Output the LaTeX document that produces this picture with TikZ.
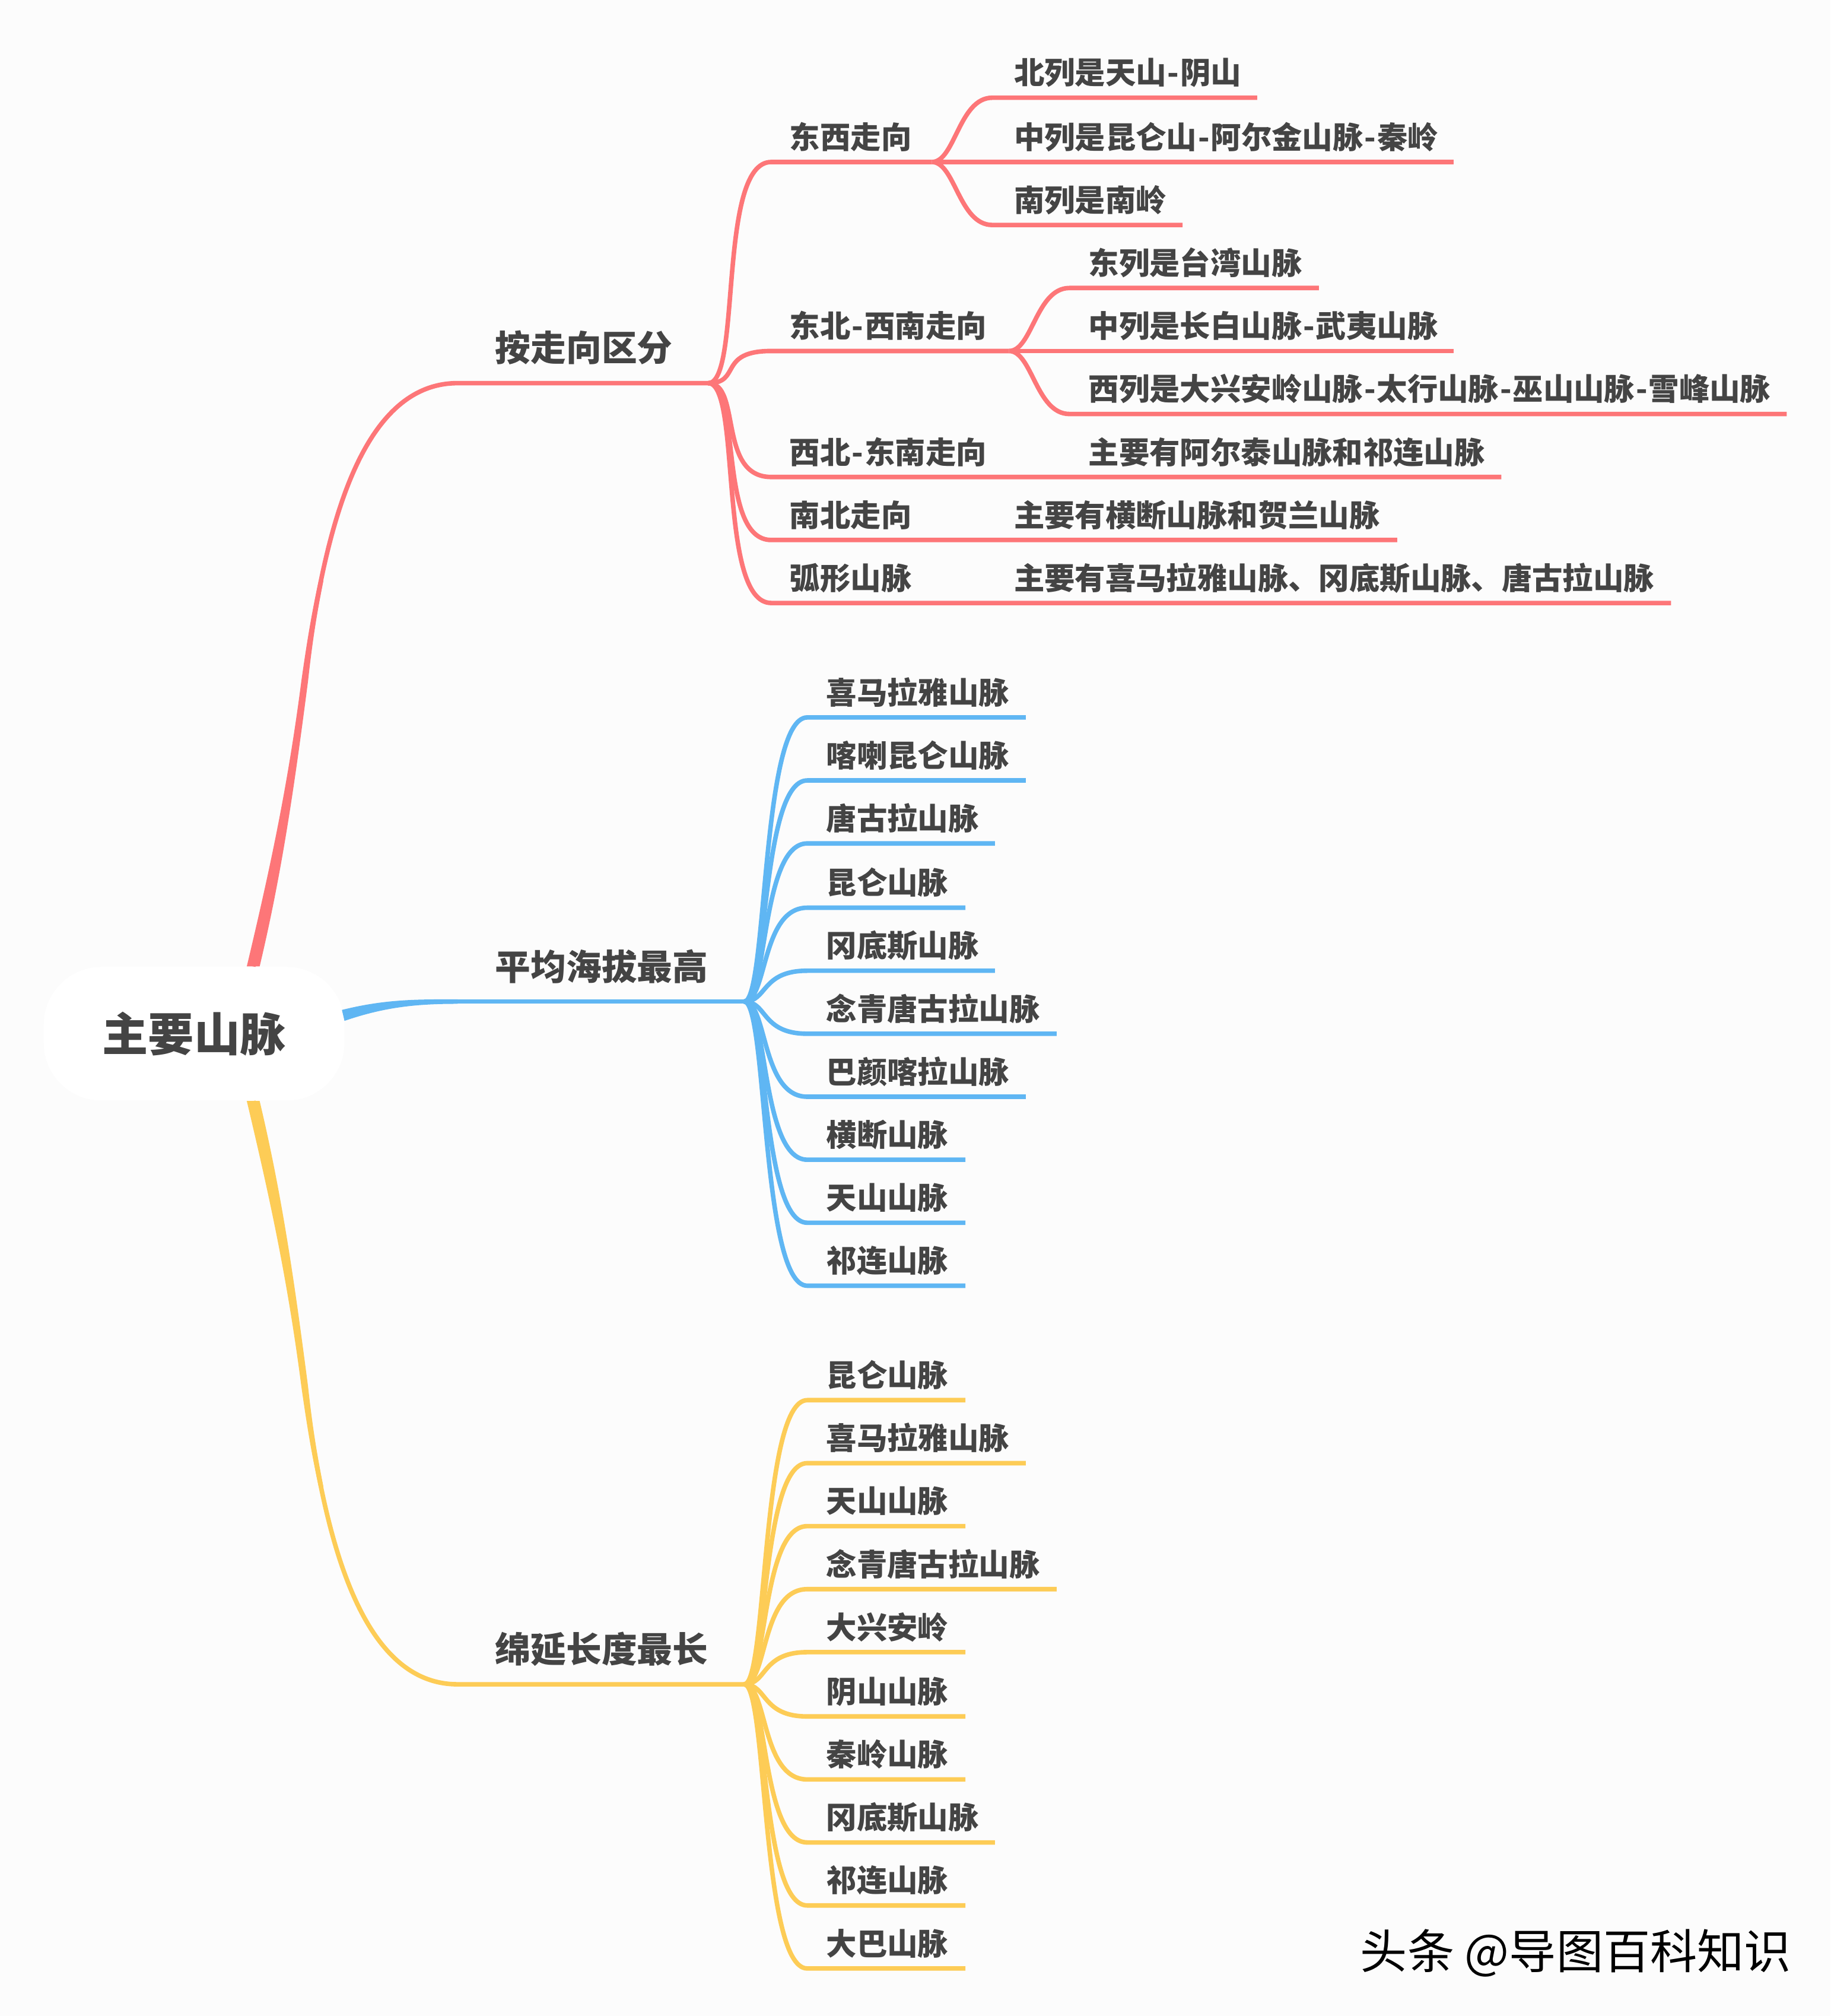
\documentclass[tikz,border=0pt]{standalone}
\usepackage{fontspec}
\setmainfont{Noto Sans CJK SC}
\usetikzlibrary{calc}
\definecolor{txtgray}{HTML}{444444}
\definecolor{redline}{HTML}{FD7678}
\definecolor{blueline}{HTML}{5FB6F3}
\definecolor{yellowline}{HTML}{FDCC56}
\newcommand{\hy}{\kern.5pt-\kern.5pt}
\tikzset{
  leaf/.style={anchor=base west,inner sep=0pt,text=txtgray,font=\fontsize{13.5}{13.5}\selectfont\bfseries},
  bigleaf/.style={anchor=base west,inner sep=0pt,text=txtgray,font=\fontsize{15.7}{15.7}\selectfont\bfseries},
  centre/.style={fill=white,rounded corners=0.9cm,minimum width=4.68cm,minimum height=2.08cm,text=txtgray,font=\fontsize{20.3}{20.3}\selectfont\bfseries},
  twig/.style={line width=2pt,line cap=butt}
}

\begin{document}
\begin{tikzpicture}[x=0.02cm,y=-0.02cm]
\fill [white!98.8!black] (0,0) rectangle (1424,1568);
\useasboundingbox (0,0) rectangle (1424,1568);

\node [centre] (root) at (151,804) {主要山脉};

% thick limbs, flat cut on the centre box
\coordinate (redhub) at (551,298);
\coordinate (bluehub) at (579,779);
\coordinate (yelhub) at (579,1310);
\coordinate (redelbow) at (356,298);
\coordinate (blueelbow) at (356,779);
\coordinate (yelelbow) at (356,1310);

\draw [twig,redline] ($(root.north)+(46,0)$) .. controls (214,680) and (226,615) .. (237,530)
  .. controls (250,430) and (275,298) .. (redelbow) -- (redhub);
\fill [redline] ($(root.north)+(41,0)$) .. controls (209,680) and (223.4,615) .. (234.4,530)
  .. controls (240,490) and (244,470) .. (248,451.6)
  -- (251.6,451.6) .. controls (248,470) and (244,490) .. (239.6,530)
  .. controls (228.6,615) and (219,680) .. ($(root.north)+(51,0)$) -- cycle;

\fill [blueline] (266,785.5) .. controls (300,777) and (325,777.25) .. ($(blueelbow)+(0,-1.75)$)
  -- ($(blueelbow)+(0,1.75)$) .. controls (325,780.75) and (300,783) .. (268,794) -- cycle;
\draw [twig,blueline] (blueelbow) -- (bluehub);

\draw [twig,yellowline] ($(root.south)+(46,0)$) .. controls (214,928) and (226,993) .. (237,1078)
  .. controls (250,1178) and (275,1310) .. (yelelbow) -- (yelhub);
\fill [yellowline] ($(root.south)+(41,0)$) .. controls (209,928) and (223.4,993) .. (234.4,1078)
  .. controls (240,1118) and (244,1138) .. (248,1156.4)
  -- (251.6,1156.4) .. controls (248,1138) and (244,1118) .. (239.6,1078)
  .. controls (228.6,993) and (219,928) .. ($(root.south)+(51,0)$) -- cycle;

\node [bigleaf] (rdir) at (385,281) {按走向区分};
\node [bigleaf] (bhigh) at (385,762.5) {平均海拔最高};
\node [bigleaf] (ylong) at (385,1293) {绵延长度最长};

% direction groups
\foreach \name/\txt/\y/\e in {ew/东西走向/126/725,ns/东北\hy 西南走向/273/785,nw/西北\hy 东南走向/371/1168,sn/南北走向/420/1087,arc/弧形山脉/469/1300}{
  \coordinate (\name s) at (600,\y);
  \coordinate (\name e) at (\e,\y);
  \node [leaf] (\name) at (614,\y-10.5) {\txt};
  \draw [twig,redline] (redhub) .. controls +(26,0) and +(-42,0) .. (\name s) -- (\name e);
}

% text that sits on a direction line
\node [leaf] (nwt) at (846.5,360.5) {主要有阿尔泰山脉和祁连山脉};
\node [leaf] (snt) at (788.5,409.5) {主要有横断山脉和贺兰山脉};
\node [leaf] (arct) at (788.5,458.5) {主要有喜马拉雅山脉、冈底斯山脉、唐古拉山脉};

\foreach \name/\txt/\y/\e in {ea/北列是天山\hy 阴山/76/978,eb/中列是昆仑山\hy 阿尔金山脉\hy 秦岭/126/1131,ec/南列是南岭/175/920}{
  \coordinate (\name s) at (772,\y);
  \coordinate (\name e) at (\e,\y);
  \node [leaf] (\name) at (788.5,\y-10.5) {\txt};
  \draw [twig,redline] (ewe) .. controls +(18,0) and +(-26,0) .. (\name s) -- (\name e);
}
\foreach \name/\txt/\y/\e in {na/东列是台湾山脉/224/1026,nb/中列是长白山脉\hy 武夷山脉/273/1131,nc/西列是大兴安岭山脉\hy 太行山脉\hy 巫山山脉\hy 雪峰山脉/322/1390}{
  \coordinate (\name s) at (832,\y);
  \coordinate (\name e) at (\e,\y);
  \node [leaf] (\name) at (846.5,\y-10.5) {\txt};
  \draw [twig,redline] (nse) .. controls +(18,0) and +(-26,0) .. (\name s) -- (\name e);
}

\foreach \txt/\y/\e [count=\i] in {喜马拉雅山脉/558/798,喀喇昆仑山脉/607/798,唐古拉山脉/656/774,昆仑山脉/706/751,冈底斯山脉/755/774,念青唐古拉山脉/804/822,巴颜喀拉山脉/853/798,横断山脉/902/751,天山山脉/951/751,祁连山脉/1000/751}{
  \coordinate (bs\i) at (628,\y);
  \coordinate (be\i) at (\e,\y);
  \node [leaf] (b\i) at (642.5,\y-10.5) {\txt};
  \draw [twig,blueline] (bluehub) .. controls +(18,0) and +(-36,0) .. (bs\i) -- (be\i);
}

\foreach \txt/\y/\e [count=\i] in {昆仑山脉/1089/751,喜马拉雅山脉/1138/798,天山山脉/1187/751,念青唐古拉山脉/1236/822,大兴安岭/1285/751,阴山山脉/1335/751,秦岭山脉/1384/751,冈底斯山脉/1433/774,祁连山脉/1482/751,大巴山脉/1531/751}{
  \coordinate (ys\i) at (628,\y);
  \coordinate (ye\i) at (\e,\y);
  \node [leaf] (y\i) at (642.5,\y-10.5) {\txt};
  \draw [twig,yellowline] (yelhub) .. controls +(18,0) and +(-36,0) .. (ys\i) -- (ye\i);
}

\node [anchor=base west,inner sep=0pt,text=black,font=\fontsize{20.8}{20.8}\selectfont] (mark) at (1058,1531.5) {头条 @导图百科知识};
\end{tikzpicture}
\end{document}
